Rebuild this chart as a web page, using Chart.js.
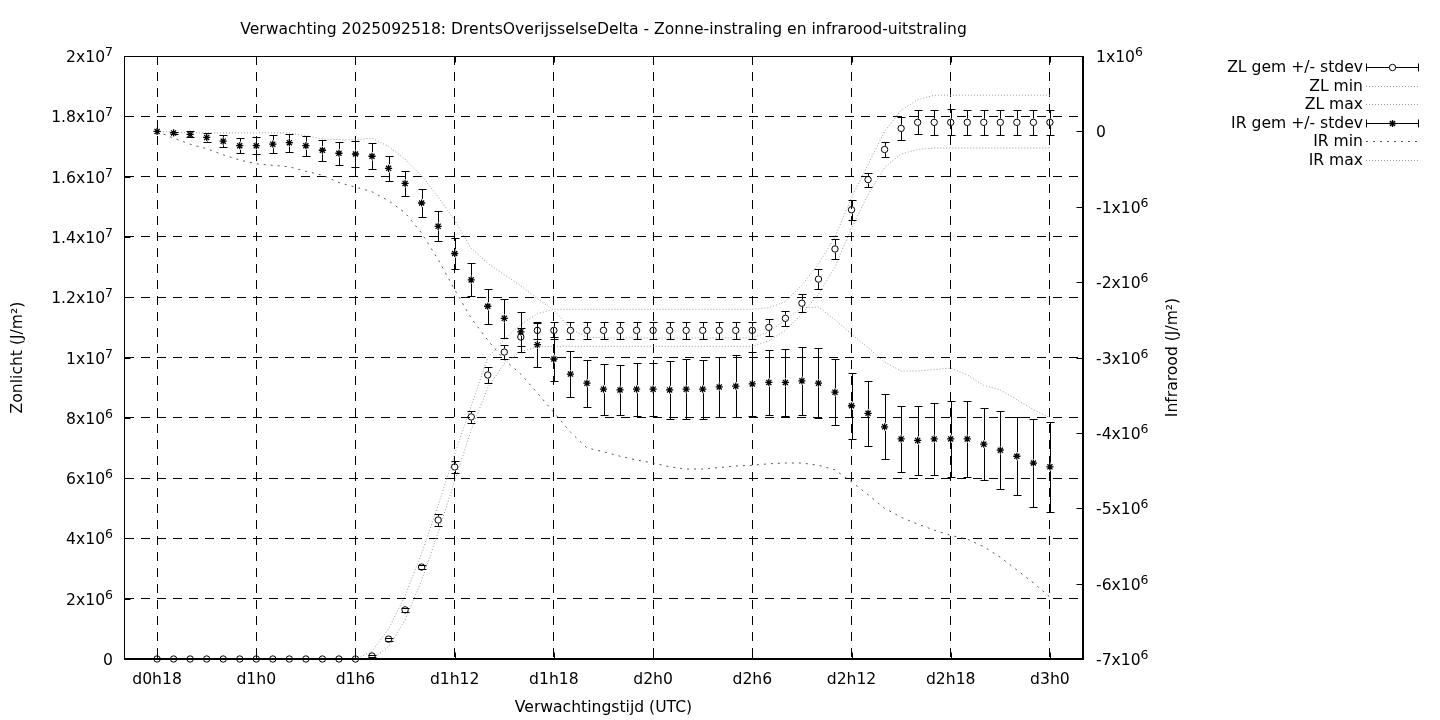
<!DOCTYPE html>
<html>
<head>
<meta charset="utf-8">
<script src="https://cdn.jsdelivr.net/npm/chart.js@4"></script>
<style>
  html, body { margin: 0; padding: 0; background: #fff; }
  canvas { display: block; }
</style>
</head>
<body>
<canvas id="zonChart" width="1440" height="720"></canvas>
<script>
// values in units of 1e6 J/m2, one per forecast hour
const M = 1e6;

const hours = [
    18, 19, 20, 21, 22, 23, 24, 25, 26, 27, 28, 29, 30, 31, 32, 33, 34, 35, 36,
    37, 38, 39, 40, 41, 42, 43, 44, 45, 46, 47, 48, 49, 50, 51, 52, 53, 54, 55,
    56, 57, 58, 59, 60, 61, 62, 63, 64, 65, 66, 67, 68, 69, 70, 71, 72
];

const zlMean = [
    0, 0, 0, 0, 0, 0, 0, 0, 0, 0,
    0, 0, 0, 0.1, 0.66, 1.63, 3.05, 4.61, 6.37, 8.03,
    9.42, 10.18, 10.68, 10.9, 10.9, 10.9, 10.9, 10.9, 10.9, 10.9,
    10.9, 10.9, 10.9, 10.9, 10.9, 10.9, 10.9, 11.0, 11.3, 11.8,
    12.6, 13.6, 14.9, 15.9, 16.9, 17.6, 17.8, 17.8, 17.8, 17.8,
    17.8, 17.8, 17.8, 17.8, 17.8
];
const zlStd = [
    0, 0, 0, 0, 0, 0, 0, 0, 0, 0,
    0, 0, 0, 0.03, 0.05, 0.06, 0.08, 0.19, 0.21, 0.2,
    0.25, 0.24, 0.3, 0.28, 0.28, 0.28, 0.28, 0.28, 0.28, 0.28,
    0.28, 0.28, 0.28, 0.28, 0.28, 0.28, 0.28, 0.28, 0.24, 0.3,
    0.32, 0.33, 0.33, 0.23, 0.25, 0.37, 0.4, 0.42, 0.43, 0.42,
    0.42, 0.42, 0.42, 0.42, 0.42
];
const zlMin = [
    0, 0, 0, 0, 0, 0, 0, 0, 0, 0,
    0, 0, 0, 0, 0.4, 1.3, 2.6, 4.2, 5.9, 7.6,
    9.0, 9.8, 10.2, 10.35, 10.37, 10.37, 10.37, 10.37, 10.37, 10.37,
    10.37, 10.37, 10.37, 10.37, 10.37, 10.37, 10.37, 10.55, 10.9, 11.45,
    12.1, 13.0, 14.3, 15.4, 16.3, 16.75, 16.9, 16.95, 16.95, 16.95,
    16.95, 16.95, 16.95, 16.95, 16.95
];
const zlMax = [
    0, 0, 0, 0, 0, 0, 0, 0, 0, 0,
    0, 0, 0, 0.25, 1.0, 2.1, 3.5, 5.1, 6.8, 8.4,
    10.0, 10.6, 11.1, 11.45, 11.6, 11.6, 11.6, 11.6, 11.6, 11.6,
    11.6, 11.6, 11.6, 11.6, 11.6, 11.6, 11.6, 11.65, 11.85, 12.4,
    13.1, 14.0, 15.3, 16.4, 17.5, 18.2, 18.55, 18.7, 18.7, 18.7,
    18.7, 18.7, 18.7, 18.7, 18.7
];

const irMean = [
    0, -0.02, -0.04, -0.08, -0.13, -0.19, -0.19, -0.17, -0.15, -0.19,
    -0.25, -0.29, -0.30, -0.33, -0.49, -0.69, -0.95, -1.26, -1.62, -1.97,
    -2.32, -2.48, -2.66, -2.83, -3.02, -3.22, -3.34, -3.42, -3.43, -3.42,
    -3.42, -3.43, -3.42, -3.42, -3.39, -3.38, -3.35, -3.33, -3.33, -3.31,
    -3.34, -3.46, -3.64, -3.74, -3.92, -4.08, -4.10, -4.08, -4.08, -4.08,
    -4.15, -4.23, -4.31, -4.40, -4.45
];
const irStd = [
    0, 0.01, 0.04, 0.06, 0.08, 0.10, 0.11, 0.12, 0.12, 0.13,
    0.14, 0.15, 0.17, 0.17, 0.17, 0.17, 0.18, 0.20, 0.21, 0.22,
    0.23, 0.26, 0.27, 0.29, 0.29, 0.31, 0.31, 0.34, 0.33, 0.35,
    0.35, 0.38, 0.40, 0.39, 0.40, 0.41, 0.42, 0.43, 0.44, 0.45,
    0.46, 0.44, 0.44, 0.43, 0.43, 0.44, 0.46, 0.48, 0.50, 0.50,
    0.48, 0.52, 0.52, 0.58, 0.60
];
const irMin = [
    0, -0.09, -0.17, -0.23, -0.31, -0.38, -0.43, -0.45, -0.47, -0.53,
    -0.58, -0.68, -0.74, -0.80, -0.92, -1.08, -1.35, -1.70, -2.10, -2.48,
    -2.77, -3.03, -3.22, -3.47, -3.73, -3.99, -4.20, -4.25, -4.31, -4.36,
    -4.40, -4.45, -4.48, -4.48, -4.46, -4.44, -4.43, -4.41, -4.40, -4.40,
    -4.43, -4.49, -4.65, -4.82, -5.00, -5.12, -5.21, -5.29, -5.36, -5.41,
    -5.51, -5.65, -5.82, -5.99, -6.18
];
const irMax = [
    0, -0.01, -0.02, -0.02, -0.02, -0.02, -0.02, -0.02, -0.02, -0.06,
    -0.10, -0.11, -0.11, -0.09, -0.20, -0.37, -0.59, -0.87, -1.18, -1.55,
    -1.75, -1.90, -2.05, -2.22, -2.37, -2.62, -2.73, -2.74, -2.74, -2.74,
    -2.74, -2.74, -2.74, -2.74, -2.74, -2.74, -2.74, -2.66, -2.50, -2.34,
    -2.33, -2.50, -2.69, -2.87, -3.06, -3.18, -3.18, -3.16, -3.14, -3.23,
    -3.37, -3.43, -3.56, -3.69, -3.80
];

const xTickHours = [18, 24, 30, 36, 42, 48, 54, 60, 66, 72];
const xTickLabels = ["d0h18", "d1h0", "d1h6", "d1h12", "d1h18", "d2h0", "d2h6", "d2h12", "d2h18", "d3h0"];
// "^" marks the exponent, drawn raised and smaller like gnuplot's enhanced text
const zlTickLabels = ["0", "2x10^6", "4x10^6", "6x10^6", "8x10^6", "1x10^7", "1.2x10^7", "1.4x10^7", "1.6x10^7", "1.8x10^7", "2x10^7"];
const irTickLabels = ["-7x10^6", "-6x10^6", "-5x10^6", "-4x10^6", "-3x10^6", "-2x10^6", "-1x10^6", "0", "1x10^6"];

const FONT = "'DejaVu Sans', sans-serif";
const FS = 15.6;
const GRID_DASH = [9, 7];
const LIGHT = "#9a9a9a";
const DARK = "#555555";

const toPoints = (vals) => hours.map((h, i) => ({ x: h, y: vals[i] * M }));

/** ===== helpers ===== */
function drawMarker(ctx, style, x, y, r) {
    ctx.beginPath();
    if (style === "circle") {
        ctx.arc(x, y, r, 0, Math.PI * 2);
    } else {
        const d = r * Math.SQRT1_2;
        ctx.moveTo(x - r, y); ctx.lineTo(x + r, y);
        ctx.moveTo(x, y - r); ctx.lineTo(x, y + r);
        ctx.moveTo(x - d, y - d); ctx.lineTo(x + d, y + d);
        ctx.moveTo(x - d, y + d); ctx.lineTo(x + d, y - d);
    }
    ctx.stroke();
}

function drawEnhanced(ctx, text, x, y, align) {
    const [base, exp] = text.split("^");
    ctx.font = FS + "px " + FONT;
    const wb = ctx.measureText(base).width;
    ctx.font = (FS * 0.8) + "px " + FONT;
    const we = exp ? ctx.measureText(exp).width : 0;
    const start = align === "right" ? x - wb - we : x;
    ctx.textAlign = "left";
    ctx.textBaseline = "alphabetic";
    ctx.font = FS + "px " + FONT;
    ctx.fillText(base, start, y + 6);
    if (exp) {
        ctx.font = (FS * 0.8) + "px " + FONT;
        ctx.fillText(exp, start + wb, y);
    }
}

/** ===== error bars (from the dataset's stdev list) ===== */
const errorBars = {
    id: "errorBars",
    afterDatasetsDraw(chart) {
        const ctx = chart.ctx;
        chart.data.datasets.forEach((ds, di) => {
            if (!ds.errors) return;
            const meta = chart.getDatasetMeta(di);
            const scale = chart.scales[ds.yAxisID];
            const gap = ds.pointRadius + 0.5;
            ctx.save();
            ctx.strokeStyle = "#000";
            ctx.lineWidth = 1;
            meta.data.forEach((pt, i) => {
                const err = ds.errors[i] * M;
                if (!err) return;
                const v = ds.data[i].y;
                const top = Math.round(scale.getPixelForValue(v + err)) + 0.5;
                const bot = Math.round(scale.getPixelForValue(v - err)) + 0.5;
                const x = Math.round(pt.x) + 0.5;
                ctx.beginPath();
                if (pt.y - gap > top) { ctx.moveTo(x, top); ctx.lineTo(x, pt.y - gap); }
                if (pt.y + gap < bot) { ctx.moveTo(x, pt.y + gap); ctx.lineTo(x, bot); }
                ctx.moveTo(x - 4, top); ctx.lineTo(x + 4, top);
                ctx.moveTo(x - 4, bot); ctx.lineTo(x + 4, bot);
                ctx.stroke();
            });
            ctx.restore();
        });
    }
};

/** ===== frame, inward tics, y labels, y2 title, key ===== */
const gnuFrame = {
    id: "gnuFrame",
    afterDatasetsDraw(chart) {
        const { ctx, chartArea: a, scales } = chart;
        const L = Math.round(a.left) + 0.5, R = Math.round(a.right) - 0.5;
        const T = Math.round(a.top) + 0.5, B = Math.round(a.bottom) - 0.5;
        ctx.save();
        ctx.strokeStyle = "#000";
        ctx.lineWidth = 1;
        ctx.strokeRect(L, T, R - L, B - T);
        ctx.beginPath();
        scales.y2.ticks.forEach((t) => {
            const y = Math.round(scales.y2.getPixelForValue(t.value)) + 0.5;
            ctx.moveTo(R - 6, y); ctx.lineTo(R, y);
        });
        scales.y.ticks.forEach((t) => {
            const y = Math.round(scales.y.getPixelForValue(t.value)) + 0.5;
            ctx.moveTo(L, y); ctx.lineTo(L + 6, y);
        });
        scales.x.ticks.forEach((t) => {
            const x = Math.round(scales.x.getPixelForValue(t.value)) + 0.5;
            ctx.moveTo(x, B); ctx.lineTo(x, B - 6);
            ctx.moveTo(x, T); ctx.lineTo(x, T + 6);
        });
        ctx.stroke();
        ctx.restore();
    },
    afterDraw(chart) {
        const { ctx, chartArea: a, scales } = chart;
        ctx.save();
        ctx.fillStyle = "#000";

        // y and y2 tick labels
        scales.y.ticks.forEach((t, i) => {
            drawEnhanced(ctx, zlTickLabels[i], a.left - 11, scales.y.getPixelForValue(t.value), "right");
        });
        scales.y2.ticks.forEach((t, i) => {
            drawEnhanced(ctx, irTickLabels[i], a.right + 13, scales.y2.getPixelForValue(t.value), "left");
        });

        // y2 title, read bottom to top like the left one
        ctx.font = FS + "px " + FONT;
        ctx.translate(1173, (a.top + a.bottom) / 2);
        ctx.rotate(-Math.PI / 2);
        ctx.textAlign = "center";
        ctx.textBaseline = "middle";
        ctx.fillText("Infrarood (J/m²)", 0, 0);
        ctx.setTransform(1, 0, 0, 1, 0, 0);

        // key
        const textRight = 1363, x1 = 1366, x2 = 1419, y0 = 67, step = 18.6;
        ctx.textAlign = "right";
        chart.data.datasets.forEach((ds, i) => {
            const y = Math.round(y0 + i * step) + 0.5;
            ctx.fillStyle = "#000";
            ctx.fillText(ds.label, textRight, y);
            ctx.lineWidth = 1;
            if (ds.errors) {
                ctx.strokeStyle = "#000";
                ctx.setLineDash([]);
                ctx.beginPath();
                ctx.moveTo(x1, y); ctx.lineTo(x2, y);
                ctx.moveTo(x1 + 0.5, y - 4); ctx.lineTo(x1 + 0.5, y + 4);
                ctx.moveTo(x2 - 0.5, y - 4); ctx.lineTo(x2 - 0.5, y + 4);
                ctx.stroke();
                const mx = (x1 + x2) / 2;
                if (ds.pointStyle === "circle") {
                    ctx.fillStyle = "#fff";
                    ctx.beginPath();
                    ctx.arc(mx, y, ds.pointRadius, 0, Math.PI * 2);
                    ctx.fill();
                }
                ctx.lineWidth = ds.pointBorderWidth;
                drawMarker(ctx, ds.pointStyle, mx, y, ds.pointRadius);
            } else {
                ctx.strokeStyle = ds.borderColor;
                ctx.setLineDash(ds.borderDash);
                ctx.beginPath();
                ctx.moveTo(x1, y); ctx.lineTo(x2, y);
                ctx.stroke();
            }
        });
        ctx.restore();
    }
};

const meanSet = (label, vals, errs, axis, style, radius, width) => ({
    label,
    data: toPoints(vals),
    errors: errs,
    yAxisID: axis,
    showLine: false,
    pointStyle: style,
    pointRadius: radius,
    pointBorderWidth: width,
    pointBorderColor: "#000",
    pointBackgroundColor: "rgba(0,0,0,0)",
    clip: false,
});

const rangeSet = (label, vals, axis, color, dash) => ({
    label,
    data: toPoints(vals),
    yAxisID: axis,
    borderColor: color,
    borderWidth: 1,
    borderDash: dash,
    pointRadius: 0,
    tension: 0,
    fill: false,
});

Chart.defaults.font.family = FONT;
Chart.defaults.font.size = FS;
Chart.defaults.color = "#000";

new Chart(document.getElementById("zonChart").getContext("2d"), {
    type: "line",
    data: {
        datasets: [
            meanSet("ZL gem +/- stdev", zlMean, zlStd, "y", "circle", 3.2, 1),
            rangeSet("ZL min", zlMin, "y", LIGHT, [1, 2]),
            rangeSet("ZL max", zlMax, "y", LIGHT, [1, 2]),
            meanSet("IR gem +/- stdev", irMean, irStd, "y2", "star", 3.6, 1.3),
            rangeSet("IR min", irMin, "y2", DARK, [2, 5]),
            rangeSet("IR max", irMax, "y2", LIGHT, [1, 2]),
        ],
    },
    options: {
        responsive: false,
        animation: false,
        events: [],
        layout: { padding: { left: 0, top: 0, right: 257, bottom: 0 } },
        plugins: {
            legend: { display: false },
            tooltip: { enabled: false },
            title: {
                display: true,
                fullSize: false,
                text: "Verwachting 2025092518: DrentsOverijsselseDelta - Zonne-instraling en infrarood-uitstraling",
                font: { size: FS, weight: "normal" },
                color: "#000",
                padding: { top: 21, bottom: 16.3 },
            },
        },
        scales: {
            x: {
                type: "linear",
                min: 16,
                max: 74,
                afterBuildTicks: (s) => { s.ticks = xTickHours.map((v) => ({ value: v })); },
                afterFit: (s) => { s.height = 61; },
                ticks: {
                    padding: 12,
                    maxRotation: 0,
                    autoSkip: false,
                    callback: (v, i) => xTickLabels[i],
                },
                grid: { color: "#000", lineWidth: 1, drawTicks: false },
                border: { color: "#000", width: 1, dash: GRID_DASH },
                title: {
                    display: true,
                    text: "Verwachtingstijd (UTC)",
                    padding: { top: 0, bottom: 3 },
                },
            },
            y: {
                type: "linear",
                position: "left",
                min: 0,
                max: 2e7,
                afterFit: (s) => { s.width = 124; },
                ticks: { stepSize: 2e6, display: false },
                grid: { color: "#000", lineWidth: 1, drawTicks: false },
                border: { color: "#000", width: 1, dash: GRID_DASH },
                title: {
                    display: true,
                    text: "Zonlicht (J/m²)",
                    padding: { top: 9, bottom: 0 },
                },
            },
            y2: {
                type: "linear",
                position: "right",
                min: -7e6,
                max: 1e6,
                afterFit: (s) => { s.width = 100; },
                ticks: { stepSize: 1e6, display: false },
                grid: { display: false, drawTicks: false },
                border: { color: "#000", width: 1 },
            },
        },
    },
    plugins: [errorBars, gnuFrame],
});
</script>
</body>
</html>
